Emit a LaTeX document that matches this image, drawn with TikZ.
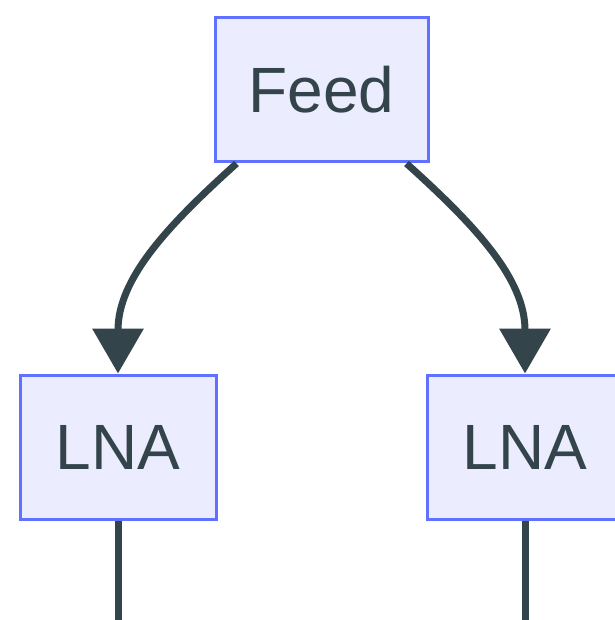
\documentclass[tikz,border=0pt]{standalone}
\usepackage{fontspec}
\setmainfont{Liberation Sans}
\usetikzlibrary{arrows.meta}
\definecolor{boxfill}{HTML}{ECECFF}
\definecolor{boxline}{HTML}{6070FF}
\definecolor{wire}{HTML}{33444A}
\begin{document}
\begin{tikzpicture}[x=1pt, y=1pt,
  every node/.style={font=\fontsize{64}{70}\selectfont, text=wire},
  blk/.style={draw=boxline, fill=boxfill, line width=3pt, minimum height=144pt, inner sep=0pt},
  link/.style={draw=wire, line width=7pt, -{Triangle[width=50pt,length=45pt]}}]
\useasboundingbox (0,0) rectangle (614,-620);
% Feed
\node[blk, minimum width=213pt] (feed) at (321.5,-90) {Feed};
% LNAs
\node[blk, minimum width=196pt] (lnaA) at (118,-447) {LNA};
\node[blk, minimum width=196pt] (lnaB) at (525,-447) {LNA};
\coordinate (endA) at (118,-625);
\coordinate (endB) at (525,-625);
% arrows
\draw[link] ([xshift=23pt]feed.south west) to[out=-138, in=90] (lnaA.north);
\draw[link] ([xshift=-23pt]feed.south east) to[out=-42, in=90] (lnaB.north);
\draw[wire, line width=7pt] (lnaA.south) -- (endA);
\draw[wire, line width=7pt] (lnaB.south) -- (endB);
\end{tikzpicture}
\end{document}
